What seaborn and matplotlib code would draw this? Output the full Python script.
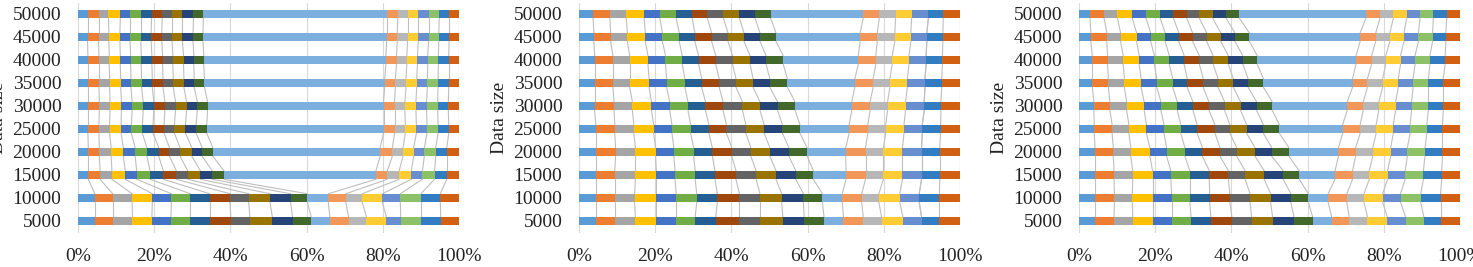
import matplotlib
matplotlib.use("Agg")
import matplotlib.pyplot as plt
import seaborn as sns
import pandas as pd
import numpy as np

# data sizes (y categories), 20 stacked series per bar
sizes = [5000, 10000, 15000, 20000, 25000, 30000, 35000, 40000, 45000, 50000]
series = ["S%d" % i for i in range(1, 21)]
colors = ["#5B9BD5", "#ED7D31", "#A5A5A5", "#FFC000", "#4472C4", "#70AD47",
          "#255E91", "#9E480E", "#636363", "#997300", "#264478", "#43682B",
          "#7CAFDD", "#F1975A", "#B7B7B7", "#FFCD33", "#698ED0", "#8CC168",
          "#327DC2", "#D26012"]
xtick_vals = [0, 20, 40, 60, 80, 100]
xtick_labels = ["0%", "20%", "40%", "60%", "80%", "100%"]

# shares (%) per series, one row per data size (5000 first)
panel1_shares = [
    [4.4, 4.7, 5.2, 5.1, 5.0, 5.1, 5.1, 5.5, 5.0, 5.9, 5.3, 4.9, 4.9, 4.9, 4.7, 5.2, 3.8, 5.3, 5.2, 4.8],
    [4.4, 4.7, 5.1, 5.3, 5.0, 5.0, 5.1, 5.3, 4.9, 5.6, 5.4, 4.4, 5.5, 4.6, 4.3, 5.3, 4.7, 5.4, 5.1, 4.9],
    [2.7, 3.1, 3.1, 3.5, 3.0, 3.5, 3.5, 3.4, 3.0, 3.3, 3.1, 3.1, 39.9, 3.0, 3.1, 3.2, 2.9, 3.2, 3.2, 3.2],
    [2.7, 2.9, 3.1, 3.2, 3.1, 3.1, 3.1, 2.8, 2.8, 3.1, 2.7, 2.8, 43.9, 3.2, 2.8, 2.8, 2.8, 3.0, 2.9, 3.2],
    [2.6, 2.9, 2.8, 3.0, 2.7, 2.9, 2.8, 2.9, 2.7, 2.9, 2.8, 2.8, 46.4, 2.9, 2.8, 2.9, 2.8, 2.9, 2.8, 2.7],
    [2.6, 3.0, 2.8, 3.0, 2.8, 2.9, 2.8, 2.9, 2.8, 2.9, 2.8, 2.7, 46.2, 2.9, 2.7, 2.9, 2.8, 2.9, 2.8, 2.8],
    [2.6, 2.9, 2.8, 2.9, 2.7, 2.8, 2.8, 2.8, 2.7, 2.8, 2.7, 2.7, 47.3, 2.8, 2.8, 2.8, 2.8, 2.8, 2.8, 2.7],
    [2.6, 2.9, 2.7, 2.9, 2.7, 2.8, 2.8, 2.8, 2.7, 2.8, 2.7, 2.6, 47.8, 2.8, 2.7, 2.8, 2.7, 2.8, 2.7, 2.7],
    [2.5, 2.9, 2.7, 2.9, 2.7, 2.8, 2.7, 2.8, 2.7, 2.7, 2.8, 2.6, 48.2, 2.8, 2.7, 2.8, 2.7, 2.7, 2.7, 2.6],
    [2.5, 2.9, 2.6, 3.1, 2.6, 2.8, 2.8, 2.8, 2.6, 2.7, 2.9, 2.6, 48.1, 2.9, 2.6, 2.8, 2.7, 2.8, 2.6, 2.6],
]
panel2_shares = [
    [4.4, 5.0, 5.4, 5.5, 5.2, 5.0, 5.4, 6.2, 5.4, 6.0, 5.6, 5.2, 5.1, 5.2, 4.8, 5.6, 4.9, 0, 4.7, 5.4],
    [4.4, 5.0, 5.2, 5.7, 5.2, 5.4, 5.4, 5.8, 5.4, 5.7, 5.7, 5.0, 5.2, 5.1, 4.5, 5.5, 5.1, 0, 5.3, 5.4],
    [4.4, 5.0, 5.4, 5.5, 4.9, 5.3, 5.2, 5.5, 5.3, 5.2, 5.2, 4.6, 8.6, 5.1, 4.7, 5.0, 5.0, 0, 4.8, 5.3],
    [4.4, 5.2, 5.2, 5.3, 4.8, 5.2, 4.9, 5.1, 5.0, 5.0, 5.0, 4.8, 10.1, 5.2, 4.7, 5.0, 5.0, 0, 4.8, 5.3],
    [4.4, 5.0, 5.0, 5.2, 4.8, 4.9, 4.8, 4.6, 5.1, 4.8, 4.8, 4.6, 12.9, 4.9, 4.7, 4.8, 4.8, 0, 4.8, 5.1],
    [4.1, 5.1, 4.8, 5.0, 4.8, 4.8, 4.6, 4.6, 5.1, 4.6, 4.6, 4.6, 14.9, 4.8, 4.6, 4.7, 4.9, 0, 4.4, 5.0],
    [4.1, 4.8, 4.4, 5.1, 4.6, 4.8, 4.4, 4.6, 4.4, 4.5, 4.4, 4.6, 17.7, 4.8, 4.4, 4.6, 4.6, 0, 4.4, 4.8],
    [4.1, 4.8, 4.4, 4.8, 4.6, 4.4, 4.3, 4.5, 4.4, 4.6, 4.2, 4.5, 19.7, 4.6, 4.3, 4.4, 4.5, 0, 4.3, 4.6],
    [3.9, 4.4, 4.4, 4.7, 4.5, 4.4, 4.1, 4.4, 4.3, 4.2, 4.2, 4.2, 22.1, 4.5, 4.6, 4.2, 4.2, 0, 4.2, 4.5],
    [3.7, 4.4, 4.3, 4.7, 4.1, 4.3, 4.2, 4.0, 4.2, 4.2, 4.1, 4.1, 24.3, 4.2, 4.3, 4.2, 4.4, 0, 3.9, 4.4],
]
panel3_shares = [
    [4.2, 5.0, 4.9, 5.2, 5.0, 5.1, 5.2, 5.5, 5.2, 5.5, 5.6, 4.9, 5.0, 4.6, 4.8, 5.2, 4.8, 4.8, 4.4, 5.1],
    [4.2, 5.1, 4.7, 5.3, 5.0, 4.8, 5.2, 5.3, 5.3, 5.4, 5.3, 4.6, 5.2, 4.9, 4.5, 4.9, 4.7, 5.3, 5.2, 5.1],
    [4.2, 5.0, 4.9, 5.2, 4.8, 5.0, 5.1, 5.0, 4.4, 5.0, 5.0, 4.2, 9.4, 4.6, 4.4, 4.8, 4.6, 4.8, 4.8, 4.8],
    [4.2, 4.8, 4.6, 5.0, 4.4, 4.8, 4.6, 4.6, 4.4, 4.8, 4.4, 4.5, 13.0, 4.5, 4.5, 4.7, 4.4, 4.6, 4.6, 4.6],
    [4.0, 4.7, 4.4, 4.6, 4.6, 4.4, 4.3, 4.7, 3.9, 4.4, 4.4, 4.2, 16.6, 4.6, 4.2, 4.5, 4.4, 4.4, 4.1, 4.6],
    [3.9, 4.2, 4.4, 4.6, 4.4, 4.3, 4.1, 4.2, 4.1, 4.2, 4.2, 4.1, 19.7, 4.2, 4.1, 4.4, 4.2, 4.4, 3.9, 4.4],
    [3.5, 4.2, 4.2, 4.4, 4.1, 4.2, 3.8, 4.2, 3.9, 4.0, 3.9, 4.0, 23.4, 3.9, 4.0, 4.1, 3.9, 4.0, 3.9, 4.4],
    [3.5, 4.0, 4.1, 4.2, 4.0, 3.9, 3.9, 4.0, 3.6, 4.0, 3.8, 3.8, 25.9, 4.1, 3.7, 3.9, 3.8, 3.9, 4.0, 3.9],
    [3.1, 4.2, 3.6, 4.2, 3.7, 3.8, 3.6, 3.6, 3.7, 3.7, 3.7, 3.8, 29.1, 4.1, 3.7, 3.7, 3.8, 3.7, 3.5, 3.7],
    [2.9, 3.7, 3.5, 3.9, 3.6, 3.7, 3.5, 3.5, 3.3, 3.5, 3.5, 3.5, 33.2, 3.7, 3.5, 3.5, 3.5, 3.5, 3.5, 3.5],
]

sns.set_theme(style="white")
plt.rcParams["font.family"] = ["Liberation Serif", "DejaVu Serif"]

W, H = 1473, 267
fig = plt.figure(figsize=(W / 100, H / 100), dpi=100)
bar_w = 0.37


def draw_panel(ax, shares):
    df = pd.DataFrame(shares, columns=series)
    df = df.div(df.sum(axis=1), axis=0) * 100
    cum = df.cumsum(axis=1)
    cum["size"] = [str(s) for s in sizes]
    order = [str(s) for s in sizes[::-1]]

    # 100% stacked bars: draw running totals from the last series down
    for k in range(len(series) - 1, -1, -1):
        sns.barplot(data=cum, x=series[k], y="size", order=order, orient="h",
                    color=colors[k], saturation=1, width=bar_w, linewidth=0,
                    errorbar=None, ax=ax, zorder=2)

    # series lines joining segment ends of neighbouring bars
    cum_top = cum.set_index("size").loc[order]
    for j in range(len(order) - 1):
        upper = cum_top.iloc[j][series].values
        lower = cum_top.iloc[j + 1][series].values
        for a, b in zip(lower, upper):
            ax.plot([a, b], [j + 1 - bar_w / 2, j + bar_w / 2],
                    color="#BFBFBF", linewidth=0.8, zorder=1)

    ax.set_xlim(0, 100)
    ax.set_ylim(len(order) - 0.5, -0.5)
    ax.set_xticks(xtick_vals)
    ax.set_xticklabels(xtick_labels)
    ax.grid(axis="x", color="#D9D9D9", linewidth=0.8)
    ax.grid(axis="y", visible=False)
    ax.set_axisbelow(True)
    sns.despine(ax=ax, left=True, bottom=True)
    ax.tick_params(axis="y", length=0, pad=12, labelsize=14, colors="#222222")
    ax.tick_params(axis="x", length=0, pad=11, labelsize=14, colors="#222222")
    ax.set_xlabel("")
    ax.set_ylabel("Data size", fontsize=14, color="#222222")
    ax.yaxis.set_label_coords(-0.186, 0.5)


lefts = [78, 579, 1079]
for left, shares in zip(lefts, [panel1_shares, panel2_shares, panel3_shares]):
    ax = fig.add_axes([left / W, (H - 232.5) / H, 381 / W, 230 / H])
    draw_panel(ax, shares)

fig.savefig("out.png", dpi=100)
